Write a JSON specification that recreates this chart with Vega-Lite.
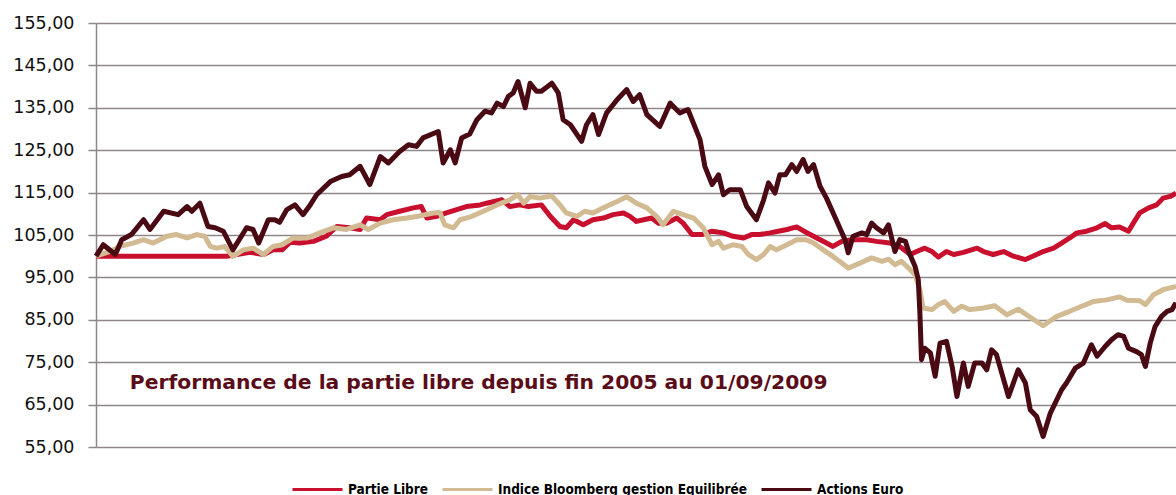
{
  "$schema": "https://vega.github.io/schema/vega-lite/v6.json",
  "width": 1080,
  "height": 424,
  "autosize": {"type": "none"},
  "padding": {"left": 96, "top": 23, "right": 0, "bottom": 48},
  "background": "white",
  "config": {"view": {"stroke": null}, "font": "DejaVu Sans"},
  "datasets": {
    "partie_libre": [
      {"jour":0,"valeur":100},{"jour":162,"valeur":100},{"jour":175,"valeur":100.4},{"jour":191,"valeur":100.9},{"jour":208,"valeur":100.4},{"jour":220,"valeur":101.5},{"jour":231,"valeur":101.5},{"jour":241,"valeur":103.3},{"jour":253,"valeur":103.1},{"jour":270,"valeur":103.5},{"jour":286,"valeur":104.7},{"jour":299,"valeur":107.0},{"jour":315,"valeur":106.7},{"jour":328,"valeur":106.3},{"jour":336,"valeur":109.0},{"jour":353,"valeur":108.6},{"jour":361,"valeur":109.8},{"jour":377,"valeur":110.6},{"jour":394,"valeur":111.4},{"jour":404,"valeur":111.7},{"jour":411,"valeur":109.0},{"jour":423,"valeur":109.4},{"jour":435,"valeur":110.2},{"jour":448,"valeur":111.0},{"jour":460,"valeur":111.7},{"jour":477,"valeur":112.1},{"jour":485,"valeur":112.5},{"jour":504,"valeur":113.3},{"jour":514,"valeur":111.7},{"jour":526,"valeur":112.1},{"jour":537,"valeur":111.7},{"jour":553,"valeur":112.1},{"jour":564,"valeur":109.4},{"jour":576,"valeur":107.0},{"jour":584,"valeur":106.7},{"jour":593,"valeur":108.6},{"jour":605,"valeur":107.4},{"jour":617,"valeur":108.6},{"jour":630,"valeur":109.0},{"jour":642,"valeur":109.8},{"jour":655,"valeur":110.2},{"jour":663,"valeur":109.4},{"jour":671,"valeur":108.2},{"jour":680,"valeur":108.6},{"jour":690,"valeur":109.0},{"jour":698,"valeur":107.8},{"jour":709,"valeur":107.8},{"jour":721,"valeur":109.0},{"jour":729,"valeur":107.8},{"jour":740,"valeur":105.1},{"jour":752,"valeur":105.1},{"jour":765,"valeur":105.9},{"jour":779,"valeur":105.5},{"jour":791,"valeur":104.7},{"jour":804,"valeur":104.3},{"jour":814,"valeur":105.1},{"jour":824,"valeur":105.1},{"jour":837,"valeur":105.5},{"jour":847,"valeur":105.9},{"jour":858,"valeur":106.3},{"jour":870,"valeur":106.9},{"jour":882,"valeur":105.6},{"jour":895,"valeur":104.3},{"jour":907,"valeur":103.1},{"jour":915,"valeur":102.3},{"jour":926,"valeur":103.5},{"jour":938,"valeur":103.9},{"jour":957,"valeur":103.9},{"jour":969,"valeur":103.5},{"jour":986,"valeur":103.1},{"jour":998,"valeur":102.3},{"jour":1011,"valeur":100.4},{"jour":1019,"valeur":101.1},{"jour":1029,"valeur":101.9},{"jour":1038,"valeur":101.1},{"jour":1046,"valeur":99.8},{"jour":1056,"valeur":101.1},{"jour":1065,"valeur":100.4},{"jour":1077,"valeur":100.9},{"jour":1094,"valeur":101.9},{"jour":1102,"valeur":101.1},{"jour":1114,"valeur":100.4},{"jour":1127,"valeur":101.1},{"jour":1139,"valeur":100.0},{"jour":1154,"valeur":99.2},{"jour":1168,"valeur":100.4},{"jour":1176,"valeur":101.1},{"jour":1189,"valeur":101.9},{"jour":1199,"valeur":103.1},{"jour":1209,"valeur":104.3},{"jour":1218,"valeur":105.5},{"jour":1230,"valeur":105.9},{"jour":1243,"valeur":106.7},{"jour":1253,"valeur":107.7},{"jour":1261,"valeur":106.7},{"jour":1271,"valeur":106.9},{"jour":1282,"valeur":105.9},{"jour":1288,"valeur":107.8},{"jour":1296,"valeur":110.2},{"jour":1307,"valeur":111.4},{"jour":1317,"valeur":112.1},{"jour":1325,"valeur":113.7},{"jour":1334,"valeur":114.1},{"jour":1341,"valeur":114.9}
    ],
    "indice_bloomberg": [
      {"jour":0,"valeur":100},{"jour":17,"valeur":101.1},{"jour":30,"valeur":102.3},{"jour":46,"valeur":103.1},{"jour":59,"valeur":103.9},{"jour":71,"valeur":103.1},{"jour":88,"valeur":104.7},{"jour":100,"valeur":105.1},{"jour":113,"valeur":104.3},{"jour":125,"valeur":105.1},{"jour":135,"valeur":104.7},{"jour":142,"valeur":102.3},{"jour":150,"valeur":101.9},{"jour":160,"valeur":102.3},{"jour":170,"valeur":99.95},{"jour":183,"valeur":101.5},{"jour":195,"valeur":101.9},{"jour":208,"valeur":100.4},{"jour":220,"valeur":102.3},{"jour":231,"valeur":102.7},{"jour":245,"valeur":104.3},{"jour":262,"valeur":104.3},{"jour":278,"valeur":105.5},{"jour":295,"valeur":106.7},{"jour":311,"valeur":106.3},{"jour":328,"valeur":107.4},{"jour":338,"valeur":106.3},{"jour":353,"valeur":107.8},{"jour":369,"valeur":108.6},{"jour":386,"valeur":109.0},{"jour":402,"valeur":109.5},{"jour":419,"valeur":110.2},{"jour":427,"valeur":110.3},{"jour":433,"valeur":107.4},{"jour":444,"valeur":106.7},{"jour":452,"valeur":108.6},{"jour":464,"valeur":109.2},{"jour":481,"valeur":110.6},{"jour":498,"valeur":112.1},{"jour":514,"valeur":113.3},{"jour":524,"valeur":114.5},{"jour":531,"valeur":112.5},{"jour":539,"valeur":114.1},{"jour":551,"valeur":113.7},{"jour":566,"valeur":114.2},{"jour":576,"valeur":112.1},{"jour":584,"valeur":110.2},{"jour":597,"valeur":109.4},{"jour":607,"valeur":110.6},{"jour":617,"valeur":110.2},{"jour":630,"valeur":111.4},{"jour":647,"valeur":112.9},{"jour":659,"valeur":114.0},{"jour":671,"valeur":112.5},{"jour":684,"valeur":111.4},{"jour":696,"valeur":109.4},{"jour":704,"valeur":107.4},{"jour":717,"valeur":110.6},{"jour":729,"valeur":109.8},{"jour":742,"valeur":109.0},{"jour":754,"valeur":106.7},{"jour":765,"valeur":102.7},{"jour":773,"valeur":103.5},{"jour":779,"valeur":101.9},{"jour":791,"valeur":102.7},{"jour":802,"valeur":102.3},{"jour":810,"valeur":100.4},{"jour":820,"valeur":99.2},{"jour":829,"valeur":100.4},{"jour":837,"valeur":102.3},{"jour":845,"valeur":101.5},{"jour":858,"valeur":102.7},{"jour":870,"valeur":103.9},{"jour":882,"valeur":103.9},{"jour":891,"valeur":103.1},{"jour":903,"valeur":101.5},{"jour":915,"valeur":99.95},{"jour":926,"valeur":98.4},{"jour":934,"valeur":97.2},{"jour":949,"valeur":98.4},{"jour":963,"valeur":99.6},{"jour":976,"valeur":98.8},{"jour":984,"valeur":99.3},{"jour":992,"valeur":98.0},{"jour":1000,"valeur":98.8},{"jour":1009,"valeur":97.2},{"jour":1017,"valeur":95.6},{"jour":1023,"valeur":92.1},{"jour":1027,"valeur":87.8},{"jour":1038,"valeur":87.4},{"jour":1046,"valeur":88.6},{"jour":1054,"valeur":89.3},{"jour":1065,"valeur":87.0},{"jour":1075,"valeur":88.2},{"jour":1085,"valeur":87.4},{"jour":1102,"valeur":87.8},{"jour":1116,"valeur":88.3},{"jour":1131,"valeur":86.2},{"jour":1145,"valeur":87.5},{"jour":1160,"valeur":85.6},{"jour":1176,"valeur":83.6},{"jour":1193,"valeur":85.8},{"jour":1209,"valeur":87.0},{"jour":1224,"valeur":88.2},{"jour":1238,"valeur":89.3},{"jour":1255,"valeur":89.7},{"jour":1271,"valeur":90.4},{"jour":1280,"valeur":89.6},{"jour":1296,"valeur":89.5},{"jour":1303,"valeur":88.6},{"jour":1313,"valeur":90.9},{"jour":1325,"valeur":92.1},{"jour":1341,"valeur":92.9}
    ],
    "actions_euro": [
      {"jour":0,"valeur":100},{"jour":9,"valeur":102.7},{"jour":24,"valeur":100.4},{"jour":32,"valeur":103.9},{"jour":44,"valeur":105.1},{"jour":59,"valeur":108.6},{"jour":67,"valeur":106.3},{"jour":84,"valeur":110.6},{"jour":102,"valeur":109.8},{"jour":113,"valeur":111.7},{"jour":119,"valeur":110.6},{"jour":129,"valeur":112.5},{"jour":139,"valeur":107.0},{"jour":148,"valeur":106.7},{"jour":158,"valeur":105.9},{"jour":170,"valeur":101.5},{"jour":187,"valeur":106.7},{"jour":195,"valeur":106.3},{"jour":202,"valeur":103.1},{"jour":214,"valeur":108.6},{"jour":222,"valeur":108.6},{"jour":228,"valeur":108.0},{"jour":237,"valeur":111.0},{"jour":247,"valeur":112.1},{"jour":257,"valeur":109.8},{"jour":266,"valeur":112.1},{"jour":274,"valeur":114.5},{"jour":291,"valeur":117.6},{"jour":305,"valeur":118.8},{"jour":315,"valeur":119.2},{"jour":328,"valeur":121.2},{"jour":340,"valeur":116.9},{"jour":353,"valeur":123.5},{"jour":363,"valeur":122.0},{"jour":377,"valeur":124.7},{"jour":388,"valeur":126.3},{"jour":398,"valeur":125.9},{"jour":406,"valeur":127.9},{"jour":425,"valeur":129.4},{"jour":431,"valeur":122.0},{"jour":440,"valeur":125.1},{"jour":446,"valeur":122.0},{"jour":454,"valeur":127.9},{"jour":464,"valeur":128.8},{"jour":473,"valeur":132.2},{"jour":483,"valeur":134.2},{"jour":491,"valeur":133.8},{"jour":498,"valeur":136.1},{"jour":506,"valeur":135.3},{"jour":512,"valeur":137.7},{"jour":518,"valeur":138.5},{"jour":524,"valeur":141.2},{"jour":533,"valeur":135.0},{"jour":539,"valeur":140.8},{"jour":547,"valeur":138.9},{"jour":553,"valeur":138.9},{"jour":566,"valeur":140.8},{"jour":574,"valeur":138.5},{"jour":580,"valeur":132.2},{"jour":589,"valeur":131.0},{"jour":603,"valeur":127.1},{"jour":609,"valeur":131.0},{"jour":617,"valeur":133.4},{"jour":624,"valeur":128.7},{"jour":634,"valeur":133.8},{"jour":647,"valeur":136.9},{"jour":659,"valeur":139.3},{"jour":667,"valeur":136.5},{"jour":675,"valeur":138.1},{"jour":684,"valeur":133.4},{"jour":700,"valeur":130.6},{"jour":713,"valeur":136.1},{"jour":725,"valeur":133.8},{"jour":735,"valeur":134.6},{"jour":750,"valeur":127.5},{"jour":756,"valeur":121.2},{"jour":765,"valeur":116.9},{"jour":773,"valeur":119.2},{"jour":779,"valeur":114.5},{"jour":787,"valeur":115.7},{"jour":800,"valeur":115.7},{"jour":808,"valeur":111.7},{"jour":820,"valeur":108.6},{"jour":829,"valeur":113.3},{"jour":835,"valeur":117.3},{"jour":843,"valeur":114.9},{"jour":849,"valeur":119.2},{"jour":856,"valeur":119.2},{"jour":864,"valeur":121.6},{"jour":870,"valeur":120.0},{"jour":878,"valeur":122.8},{"jour":884,"valeur":120.0},{"jour":891,"valeur":121.6},{"jour":899,"valeur":116.5},{"jour":907,"valeur":113.7},{"jour":920,"valeur":108.2},{"jour":930,"valeur":103.9},{"jour":934,"valeur":100.8},{"jour":940,"valeur":104.7},{"jour":951,"valeur":105.5},{"jour":957,"valeur":105.1},{"jour":963,"valeur":107.8},{"jour":969,"valeur":106.7},{"jour":978,"valeur":105.5},{"jour":984,"valeur":107.4},{"jour":992,"valeur":101.1},{"jour":998,"valeur":103.9},{"jour":1005,"valeur":103.5},{"jour":1009,"valeur":101.1},{"jour":1017,"valeur":97.6},{"jour":1021,"valeur":94.5},{"jour":1023,"valeur":86.6},{"jour":1025,"valeur":75.6},{"jour":1029,"valeur":78.3},{"jour":1036,"valeur":77.2},{"jour":1042,"valeur":71.7},{"jour":1048,"valeur":79.5},{"jour":1056,"valeur":79.9},{"jour":1063,"valeur":74.0},{"jour":1069,"valeur":66.9},{"jour":1077,"valeur":74.8},{"jour":1083,"valeur":69.3},{"jour":1091,"valeur":74.8},{"jour":1100,"valeur":74.8},{"jour":1106,"valeur":73.2},{"jour":1112,"valeur":77.9},{"jour":1118,"valeur":76.8},{"jour":1127,"valeur":70.9},{"jour":1133,"valeur":66.9},{"jour":1145,"valeur":73.2},{"jour":1154,"valeur":70.1},{"jour":1160,"valeur":63.8},{"jour":1168,"valeur":62.2},{"jour":1176,"valeur":57.5},{"jour":1185,"valeur":63.0},{"jour":1199,"valeur":68.5},{"jour":1205,"valeur":70.1},{"jour":1216,"valeur":73.6},{"jour":1226,"valeur":74.8},{"jour":1236,"valeur":79.1},{"jour":1243,"valeur":76.4},{"jour":1253,"valeur":78.7},{"jour":1261,"valeur":80.3},{"jour":1269,"valeur":81.5},{"jour":1276,"valeur":81.1},{"jour":1282,"valeur":78.3},{"jour":1292,"valeur":77.5},{"jour":1298,"valeur":76.8},{"jour":1303,"valeur":74.0},{"jour":1309,"valeur":79.5},{"jour":1315,"valeur":83.4},{"jour":1323,"valeur":85.8},{"jour":1330,"valeur":87.0},{"jour":1336,"valeur":87.4},{"jour":1341,"valeur":89.0}
    ],
    "annotation": [
      {"jour": 42, "valeur": 70.2, "texte": "Performance de la partie libre depuis fin 2005 au 01/09/2009"}
    ]
  },
  "encoding": {
    "x": {"field": "jour", "type": "quantitative", "scale": {"domain": [0, 1341], "nice": false, "zero": false}, "axis": null},
    "y": {
      "field": "valeur", "type": "quantitative",
      "scale": {"domain": [55, 155], "nice": false, "zero": false},
      "axis": {
        "title": null,
        "values": [55, 65, 75, 85, 95, 105, 115, 125, 135, 145, 155],
        "labelExpr": "replace(format(datum.value, '.2f'), '.', ',')",
        "grid": true, "gridColor": "#8f8787", "gridWidth": 1.5,
        "domainColor": "#8f8787", "domainWidth": 1.5,
        "tickColor": "#8f8787", "tickWidth": 1.5, "tickSize": 8,
        "labelFont": "DejaVu Sans", "labelFontSize": 17.5, "labelColor": "#111111",
        "labelPadding": 14
      }
    }
  },
  "layer": [
    {
      "data": {"name": "partie_libre"},
      "mark": {"type": "line", "strokeWidth": 5, "strokeJoin": "round"},
      "encoding": {
        "color": {
          "datum": "Partie Libre", "type": "nominal",
          "scale": {
            "domain": ["Partie Libre", "Indice Bloomberg gestion Equilibrée", "Actions Euro"],
            "range": ["#C8102E", "#D2BA92", "#4A0A14"]
          },
          "legend": {
            "orient": "none", "legendX": 195, "legendY": 440, "direction": "horizontal", "title": null,
            "symbolType": "stroke", "symbolSize": 2500, "symbolStrokeWidth": 3,
            "labelFont": "DejaVu Sans Condensed", "labelFontWeight": "bold", "labelFontSize": 13.5,
            "labelColor": "#000000", "labelLimit": 400, "columnPadding": 8, "labelOffset": 4
          }
        }
      }
    },
    {
      "data": {"name": "indice_bloomberg"},
      "mark": {"type": "line", "strokeWidth": 5, "strokeJoin": "round"},
      "encoding": {"color": {"datum": "Indice Bloomberg gestion Equilibrée", "type": "nominal"}}
    },
    {
      "data": {"name": "actions_euro"},
      "mark": {"type": "line", "strokeWidth": 5, "strokeJoin": "round"},
      "encoding": {"color": {"datum": "Actions Euro", "type": "nominal"}}
    },
    {
      "data": {"name": "annotation"},
      "mark": {"type": "text", "align": "left", "baseline": "middle", "font": "DejaVu Sans", "fontWeight": "bold", "fontSize": 20.3, "color": "#5A0D18"},
      "encoding": {"text": {"field": "texte"}}
    }
  ]
}
